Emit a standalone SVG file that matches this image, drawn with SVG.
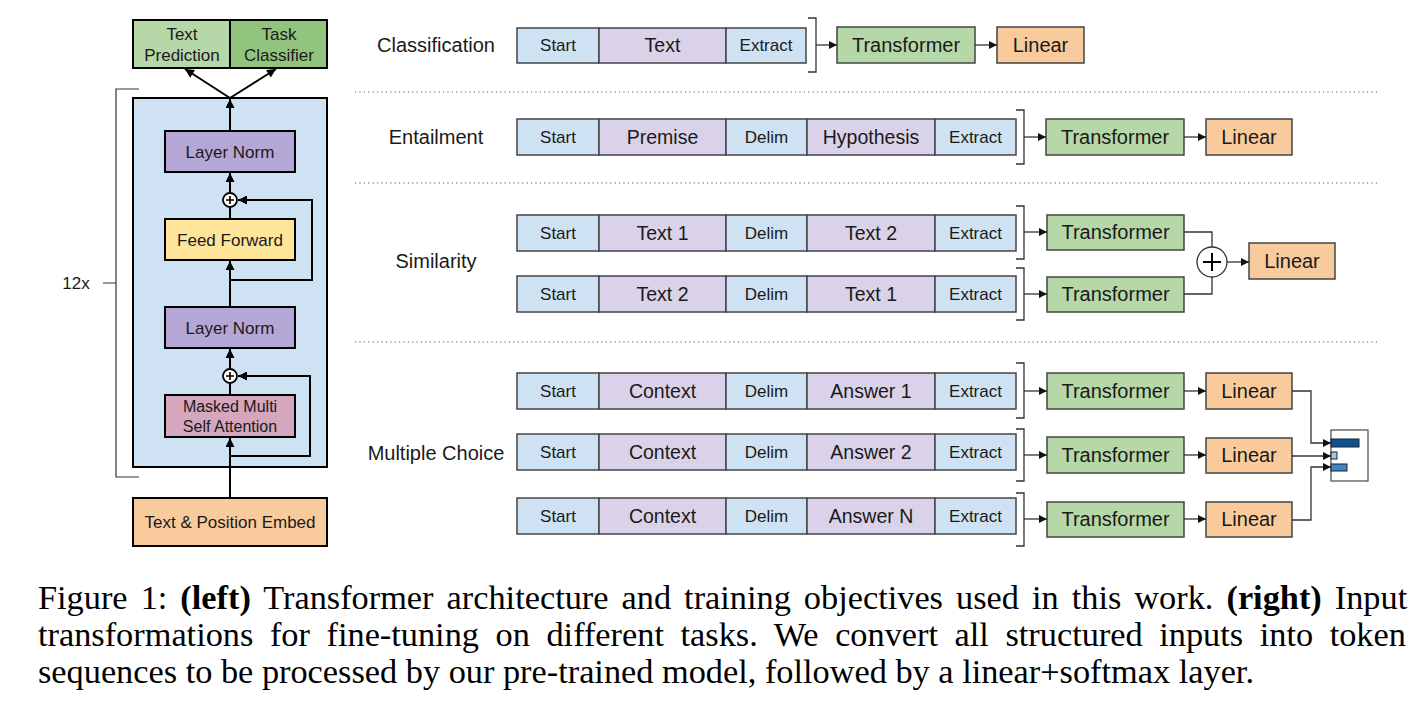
<svg xmlns="http://www.w3.org/2000/svg" width="1428" height="714" viewBox="0 0 1428 714">
<style>
text{font-family:"Liberation Sans",Arial,sans-serif;fill:#1a1a1a;text-anchor:middle}
.s17{font-size:17px}
.s16{font-size:16px}
.s20{font-size:20px}
.s19{font-size:19.5px}
.lb{stroke:#000;stroke-width:2}
.rb{stroke:#444;stroke-width:1.5}
.blue{fill:#cfe2f3}
.lil{fill:#d9d2e9}
.grn{fill:#b6d7a8}
.org{fill:#f9cb9c}
.ln{fill:none;stroke:#000;stroke-width:2}
.rl{fill:none;stroke:#333;stroke-width:1.3}
.br{fill:none;stroke:#333;stroke-width:1.3}
.dot{stroke:#555;stroke-width:1.2;stroke-dasharray:1.2 3.2}
.cap{font-family:"Liberation Serif","Times New Roman",serif;font-size:33px;text-anchor:start;fill:#000}
.b{font-weight:bold}
</style>
<defs>
<marker id="al" viewBox="0 0 10 10" refX="10" refY="5" markerWidth="10" markerHeight="9" markerUnits="userSpaceOnUse" orient="auto"><path d="M0,0L10,5L0,10z" fill="#000"/></marker>
<marker id="ar" viewBox="0 0 10 10" refX="10" refY="5" markerWidth="9" markerHeight="8" markerUnits="userSpaceOnUse" orient="auto"><path d="M0,0L10,5L0,10z" fill="#111"/></marker>
</defs>
<rect width="1428" height="714" fill="#fff"/>

<!-- LEFT: architecture -->
<g id="outputs">
<rect x="133" y="20" width="97" height="48" fill="#b6d7a8" class="lb"/>
<rect x="230" y="20" width="97" height="48" fill="#93c47d" class="lb"/>
<text class="s17" x="182" y="40">Text</text>
<text class="s17" x="182" y="61">Prediction</text>
<text class="s17" x="279" y="40">Task</text>
<text class="s17" x="279" y="61">Classifier</text>
</g>
<g id="block">
<rect x="133" y="98" width="194" height="369" fill="#cfe2f3" class="lb"/>
</g>
<g id="bracket12x">
<path d="M139,89H116V477H139M103,283H116" fill="none" stroke="#333" stroke-width="1.2"/>
<text class="s17" x="76" y="289">12x</text>
</g>
<g id="layernorm1">
<rect x="165" y="131" width="130" height="41" fill="#b4a7d6" class="lb"/>
<text class="s17" x="230" y="158">Layer Norm</text>
</g>
<g id="add1">
<circle cx="230" cy="200" r="7" fill="#fff" stroke="#000" stroke-width="1.8"/>
<path d="M226,200H234M230,196V204" stroke="#000" stroke-width="1.6"/>
</g>
<g id="feedforward">
<rect x="165" y="219" width="130" height="41" fill="#ffe599" class="lb"/>
<text class="s17" x="230" y="246">Feed Forward</text>
</g>
<g id="layernorm2">
<rect x="165" y="307" width="130" height="41" fill="#b4a7d6" class="lb"/>
<text class="s17" x="230" y="334">Layer Norm</text>
</g>
<g id="add2">
<circle cx="230" cy="376" r="7" fill="#fff" stroke="#000" stroke-width="1.8"/>
<path d="M226,376H234M230,372V380" stroke="#000" stroke-width="1.6"/>
</g>
<g id="attention">
<rect x="165" y="395" width="130" height="42" fill="#d5a6bd" class="lb"/>
<text class="s16" x="230" y="412">Masked Multi</text>
<text class="s16" x="230" y="432">Self Attention</text>
</g>
<g id="embed">
<rect x="133" y="498" width="194" height="48" fill="#f9cb9c" class="lb"/>
<text class="s17" x="230" y="528">Text &amp; Position Embed</text>
</g>

<g id="connectors-left">
<path class="ln" d="M230,498V438" marker-end="url(#al)"/>
<path class="ln" d="M230,456H310V376H238" marker-end="url(#al)"/>
<path class="ln" d="M230,395V383"/>
<path class="ln" d="M230,369V349" marker-end="url(#al)"/>
<path class="ln" d="M230,307V261" marker-end="url(#al)"/>
<path class="ln" d="M230,280H312V200H238" marker-end="url(#al)"/>
<path class="ln" d="M230,219V207"/>
<path class="ln" d="M230,193V173" marker-end="url(#al)"/>
<path class="ln" d="M230,131V99" marker-end="url(#al)"/>
<path class="ln" d="M230,98L185,69" marker-end="url(#al)"/>
<path class="ln" d="M230,98L276,69" marker-end="url(#al)"/>
</g>

<!-- RIGHT: tasks -->
<g id="separators">
<line class="dot" x1="355" y1="92" x2="1380" y2="92"/>
<line class="dot" x1="355" y1="183" x2="1380" y2="183"/>
<line class="dot" x1="355" y1="342" x2="1380" y2="342"/>
</g>

<g id="task-labels">
<text class="s20" x="436" y="52">Classification</text>
<text class="s20" x="436" y="144">Entailment</text>
<text class="s20" x="436" y="268">Similarity</text>
<text class="s20" x="436" y="460">Multiple Choice</text>
</g>

<g id="classification-input">
<rect x="517" y="28" width="82" height="35" class="blue rb"/>
<rect x="599" y="28" width="127" height="35" class="lil rb"/>
<rect x="726" y="28" width="80" height="35" class="blue rb"/>
<text class="s17" x="558" y="51">Start</text>
<text class="s19" x="662.5" y="52">Text</text>
<text class="s17" x="766" y="51">Extract</text>
</g>
<g id="classification-transformer"><rect x="837" y="27" width="138" height="36" class="grn rb"/><text class="s20" x="906" y="52">Transformer</text></g>
<g id="classification-linear"><rect x="997" y="27" width="87" height="36" class="org rb"/><text class="s20" x="1040.5" y="52">Linear</text></g>

<g id="entailment-input">
<rect x="517" y="119" width="82" height="36" class="blue rb"/>
<rect x="599" y="119" width="127" height="36" class="lil rb"/>
<rect x="726" y="119" width="81" height="36" class="blue rb"/>
<rect x="807" y="119" width="128" height="36" class="lil rb"/>
<rect x="935" y="119" width="81" height="36" class="blue rb"/>
<text class="s17" x="558" y="143">Start</text>
<text class="s19" x="662.5" y="144">Premise</text>
<text class="s17" x="766.5" y="143">Delim</text>
<text class="s19" x="871" y="144">Hypothesis</text>
<text class="s17" x="975.5" y="143">Extract</text>
</g>
<g id="entailment-transformer"><rect x="1046" y="119" width="138" height="36" class="grn rb"/><text class="s20" x="1115" y="144">Transformer</text></g>
<g id="entailment-linear"><rect x="1206" y="119" width="86" height="36" class="org rb"/><text class="s20" x="1249" y="144">Linear</text></g>

<g id="similarity-input-1">
<rect x="517" y="215" width="82" height="36" class="blue rb"/>
<rect x="599" y="215" width="127" height="36" class="lil rb"/>
<rect x="726" y="215" width="81" height="36" class="blue rb"/>
<rect x="807" y="215" width="128" height="36" class="lil rb"/>
<rect x="935" y="215" width="81" height="36" class="blue rb"/>
<text class="s17" x="558" y="239">Start</text>
<text class="s19" x="662.5" y="240">Text 1</text>
<text class="s17" x="766.5" y="239">Delim</text>
<text class="s19" x="871" y="240">Text 2</text>
<text class="s17" x="975.5" y="239">Extract</text>
</g>
<g id="similarity-input-2">
<rect x="517" y="276" width="82" height="36" class="blue rb"/>
<rect x="599" y="276" width="127" height="36" class="lil rb"/>
<rect x="726" y="276" width="81" height="36" class="blue rb"/>
<rect x="807" y="276" width="128" height="36" class="lil rb"/>
<rect x="935" y="276" width="81" height="36" class="blue rb"/>
<text class="s17" x="558" y="300">Start</text>
<text class="s19" x="662.5" y="301">Text 2</text>
<text class="s17" x="766.5" y="300">Delim</text>
<text class="s19" x="871" y="301">Text 1</text>
<text class="s17" x="975.5" y="300">Extract</text>
</g>
<g id="similarity-transformer-1"><rect x="1047" y="215" width="137" height="35" class="grn rb"/><text class="s20" x="1115.5" y="239">Transformer</text></g>
<g id="similarity-transformer-2"><rect x="1047" y="277" width="137" height="35" class="grn rb"/><text class="s20" x="1115.5" y="301">Transformer</text></g>
<g id="similarity-add">
<circle cx="1212" cy="262" r="15" fill="#fff" stroke="#333" stroke-width="1.3"/>
<path d="M1203,262H1221M1212,253V271" stroke="#000" stroke-width="2"/>
</g>
<g id="similarity-linear"><rect x="1249" y="243" width="86" height="36" class="org rb"/><text class="s20" x="1292" y="268">Linear</text></g>

<g id="mc-input-1">
<rect x="517" y="373" width="82" height="36" class="blue rb"/>
<rect x="599" y="373" width="127" height="36" class="lil rb"/>
<rect x="726" y="373" width="81" height="36" class="blue rb"/>
<rect x="807" y="373" width="128" height="36" class="lil rb"/>
<rect x="935" y="373" width="81" height="36" class="blue rb"/>
<text class="s17" x="558" y="397">Start</text>
<text class="s19" x="662.5" y="398">Context</text>
<text class="s17" x="766.5" y="397">Delim</text>
<text class="s19" x="871" y="398">Answer 1</text>
<text class="s17" x="975.5" y="397">Extract</text>
</g>
<g id="mc-input-2">
<rect x="517" y="434" width="82" height="36" class="blue rb"/>
<rect x="599" y="434" width="127" height="36" class="lil rb"/>
<rect x="726" y="434" width="81" height="36" class="blue rb"/>
<rect x="807" y="434" width="128" height="36" class="lil rb"/>
<rect x="935" y="434" width="81" height="36" class="blue rb"/>
<text class="s17" x="558" y="458">Start</text>
<text class="s19" x="662.5" y="459">Context</text>
<text class="s17" x="766.5" y="458">Delim</text>
<text class="s19" x="871" y="459">Answer 2</text>
<text class="s17" x="975.5" y="458">Extract</text>
</g>
<g id="mc-input-3">
<rect x="517" y="498" width="82" height="36" class="blue rb"/>
<rect x="599" y="498" width="127" height="36" class="lil rb"/>
<rect x="726" y="498" width="81" height="36" class="blue rb"/>
<rect x="807" y="498" width="128" height="36" class="lil rb"/>
<rect x="935" y="498" width="81" height="36" class="blue rb"/>
<text class="s17" x="558" y="522">Start</text>
<text class="s19" x="662.5" y="523">Context</text>
<text class="s17" x="766.5" y="522">Delim</text>
<text class="s19" x="871" y="523">Answer N</text>
<text class="s17" x="975.5" y="522">Extract</text>
</g>
<g id="mc-transformer-1"><rect x="1047" y="373" width="137" height="36" class="grn rb"/><text class="s20" x="1115.5" y="398">Transformer</text></g>
<g id="mc-transformer-2"><rect x="1047" y="437" width="137" height="36" class="grn rb"/><text class="s20" x="1115.5" y="462">Transformer</text></g>
<g id="mc-transformer-3"><rect x="1047" y="502" width="137" height="35" class="grn rb"/><text class="s20" x="1115.5" y="526">Transformer</text></g>
<g id="mc-linear-1"><rect x="1206" y="373" width="86" height="36" class="org rb"/><text class="s20" x="1249" y="398">Linear</text></g>
<g id="mc-linear-2"><rect x="1206" y="438" width="86" height="35" class="org rb"/><text class="s20" x="1249" y="462">Linear</text></g>
<g id="mc-linear-3"><rect x="1206" y="502" width="86" height="35" class="org rb"/><text class="s20" x="1249" y="526">Linear</text></g>
<g id="softmax">
<rect x="1331" y="430" width="37" height="51" fill="#fff" stroke="#555" stroke-width="1.3"/>
<rect x="1331" y="439" width="28" height="8" fill="#0b5394" stroke="#222" stroke-width="1"/>
<rect x="1331" y="452" width="6" height="7" fill="#9fc5e8" stroke="#222" stroke-width="1"/>
<rect x="1331" y="464" width="16" height="7" fill="#3d85c6" stroke="#222" stroke-width="1"/>
</g>

<g id="connectors-right">
<path class="br" d="M808,18H816V72H808"/>
<path class="br" d="M1016,110H1024V164H1016"/>
<path class="br" d="M1016,206H1024V259H1016"/>
<path class="br" d="M1016,268H1024V320H1016"/>
<path class="br" d="M1016,363H1024V418H1016"/>
<path class="br" d="M1016,429H1024V481H1016"/>
<path class="br" d="M1016,493H1024V546H1016"/>
<path class="rl" d="M816,45H837" marker-end="url(#ar)"/>
<path class="rl" d="M975,45H997" marker-end="url(#ar)"/>
<path class="rl" d="M1024,137H1046" marker-end="url(#ar)"/>
<path class="rl" d="M1184,137H1206" marker-end="url(#ar)"/>
<path class="rl" d="M1024,232H1047" marker-end="url(#ar)"/>
<path class="rl" d="M1024,294H1047" marker-end="url(#ar)"/>
<path class="rl" d="M1184,232H1212V247"/>
<path class="rl" d="M1184,294H1212V277"/>
<path class="rl" d="M1227,262H1249" marker-end="url(#ar)"/>
<path class="rl" d="M1024,391H1047" marker-end="url(#ar)"/>
<path class="rl" d="M1024,455H1047" marker-end="url(#ar)"/>
<path class="rl" d="M1024,519H1047" marker-end="url(#ar)"/>
<path class="rl" d="M1184,391H1206" marker-end="url(#ar)"/>
<path class="rl" d="M1184,455H1206" marker-end="url(#ar)"/>
<path class="rl" d="M1184,519H1206" marker-end="url(#ar)"/>
<path class="rl" d="M1292,391H1311V443H1331" marker-end="url(#ar)"/>
<path class="rl" d="M1292,456H1331" marker-end="url(#ar)"/>
<path class="rl" d="M1292,520H1311V467H1331" marker-end="url(#ar)"/>
</g>

<g id="caption" transform="translate(38,0) scale(1.04,1)">
<text class="cap" x="0" y="609" word-spacing="4.3">Figure 1: <tspan class="b">(left)</tspan> Transformer architecture and training objectives used in this work. <tspan class="b">(right)</tspan> Input</text>
<text class="cap" x="0" y="646" word-spacing="7.7">transformations for fine-tuning on different tasks. We convert all structured inputs into token</text>
<text class="cap" x="0" y="683">sequences to be processed by our pre-trained model, followed by a linear+softmax layer.</text>
</g>
</svg>
